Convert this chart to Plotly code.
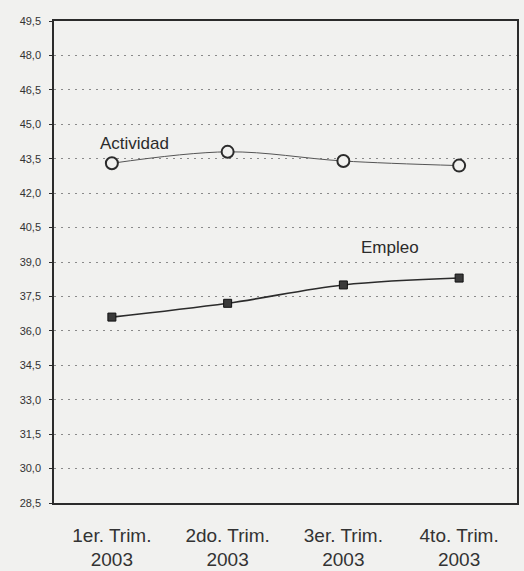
import plotly.graph_objects as go

# Tasas de actividad y empleo por trimestre, 2003
trimestres = ["1er. Trim.<br>2003", "2do. Trim.<br>2003", "3er. Trim.<br>2003", "4to. Trim.<br>2003"]
actividad = [43.3, 43.8, 43.4, 43.2]
empleo = [36.6, 37.2, 38.0, 38.3]
y_ticks = [28.5, 30.0, 31.5, 33.0, 34.5, 36.0, 37.5, 39.0, 40.5, 42.0, 43.5, 45.0, 46.5, 48.0, 49.5]

INK = "#2b2b2b"
PAPER = "#f1f1ef"

fig = go.Figure()
fig.add_trace(go.Scatter(
    x=trimestres, y=actividad, name="Actividad", mode="lines+markers",
    line=dict(color="#555", width=1, shape="spline"),
    marker=dict(symbol="circle", size=12, color=PAPER,
                line=dict(color=INK, width=2)),
))
fig.add_trace(go.Scatter(
    x=trimestres, y=empleo, name="Empleo", mode="lines+markers",
    line=dict(color=INK, width=1.6, shape="spline"),
    marker=dict(symbol="square", size=8, color="#3a3a3a",
                line=dict(color="#111", width=1)),
))

fig.add_annotation(x=trimestres[0], y=actividad[0], text="Actividad",
                   showarrow=False, xanchor="left", yanchor="bottom",
                   xshift=-14, yshift=8,
                   font=dict(size=17, color=INK))
fig.add_annotation(x=trimestres[2], y=empleo[2], text="Empleo",
                   showarrow=False, xanchor="left", yanchor="bottom",
                   xshift=16, yshift=26,
                   font=dict(size=17, color=INK))

fig.update_xaxes(
    type="category", range=[-0.5, 3.5], showgrid=False,
    showline=True, linecolor=INK, linewidth=1.5, mirror=True,
    ticks="", ticklabelstandoff=14, automargin=False,
    tickfont=dict(size=19, color="#333"),
)
fig.update_yaxes(
    range=[28.5, 49.5], tickvals=y_ticks, tickformat=".1f",
    showgrid=True, gridcolor="#8a8a8a", griddash="2px,5px", gridwidth=1,
    showline=True, linecolor=INK, linewidth=1.5, mirror=True,
    ticks="outside", ticklen=3, tickcolor=INK, ticklabelstandoff=6,
    automargin=False, tickfont=dict(size=11, color="#333"), zeroline=False,
)
fig.update_layout(
    width=524, height=571, showlegend=False,
    separators=",.",
    font=dict(family="Liberation Sans, Arial, sans-serif"),
    paper_bgcolor=PAPER, plot_bgcolor=PAPER,
    margin=dict(l=54, r=7, t=21, b=68),
)
fig.write_html("out.html", config={"displayModeBar": False},
               post_script="document.body.style.margin='0';document.body.style.overflow='hidden';")
